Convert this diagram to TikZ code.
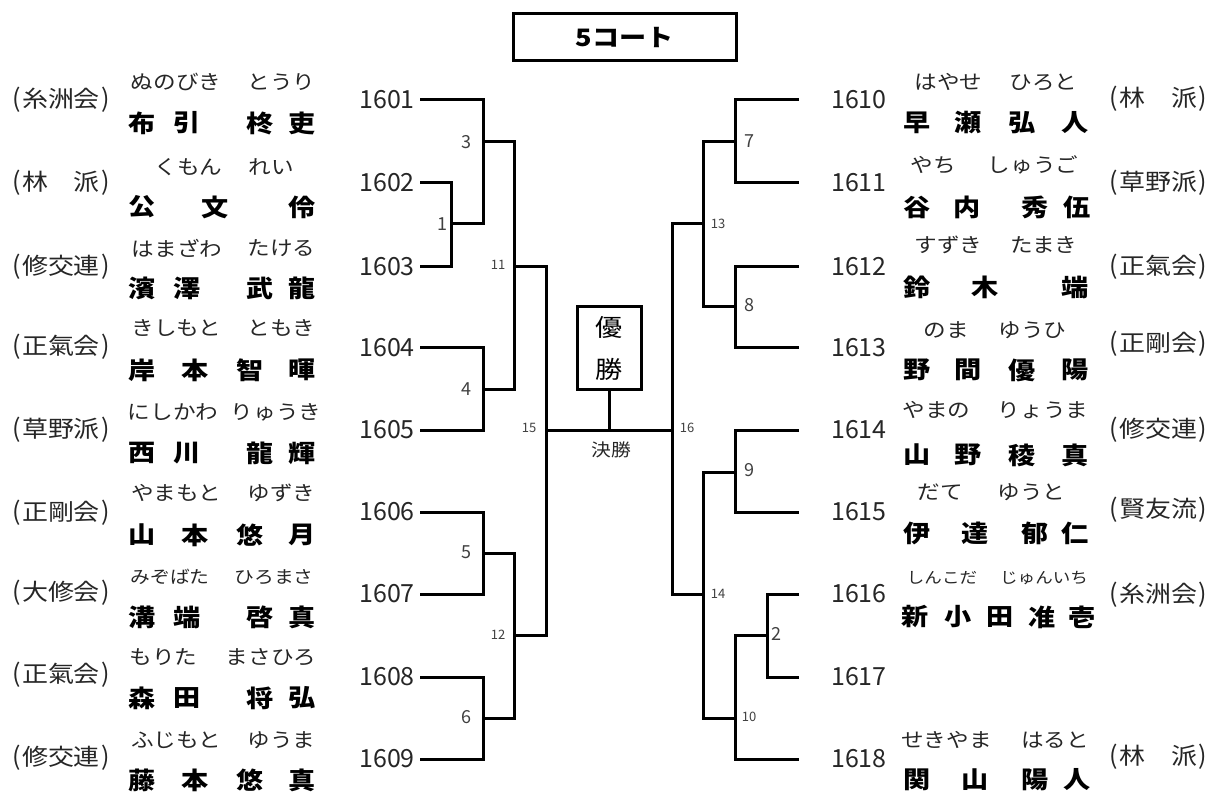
\documentclass[tikz,border=0pt]{standalone}
\usepackage{fontspec}
\setmainfont{Noto Sans CJK JP}[FakeStretch=1.13]
\newfontfamily\numfont{Noto Sans CJK JP}
\newcommand\clubtxt[1]{{\addfontfeature{FakeStretch=1}\fontsize{25}{26}\selectfont(}\hspace{1.5pt}#1\hspace{1.5pt}{\addfontfeature{FakeStretch=1}\fontsize{25}{26}\selectfont)}}
\begin{document}
\begin{tikzpicture}[x=1pt,y=-1pt,
  kj/.style={font=\fontsize{24}{28}\selectfont\bfseries, inner sep=0pt, text=black},
  fu/.style={font=\fontsize{20}{24}\selectfont, inner sep=0pt, text=black!85},
  fus/.style={font=\fontsize{17.5}{20}\selectfont, inner sep=0pt, text=black!85},
  fuxs/.style={font=\fontsize{15.5}{18}\selectfont, inner sep=0pt, text=black!85},
  cl/.style={font=\fontsize{23}{26}\selectfont, inner sep=0pt, text=black!85},
  num/.style={font=\numfont\fontsize{25}{28}\selectfont, inner sep=0pt, text=black!85},
  lab/.style={font=\numfont\fontsize{18}{20}\selectfont, inner sep=0pt, text=black!75},
  labs/.style={font=\numfont\fontsize{13}{15}\selectfont, inner sep=0pt, text=black!75},
  br/.style={line width=3pt, line join=miter},
  boxed/.style={draw, line width=3pt, inner sep=0pt}
]
\useasboundingbox (0,0) rectangle (1213,794);

% title
\node[boxed, minimum width=223pt, minimum height=47pt, font=\fontsize{24}{28}\selectfont\bfseries] (title) at (624.5,37.5) {5コート};

% numbers left
\foreach \n/\y in {1601/100,1602/183,1603/267,1604/348,1605/430,1606/512,1607/594,1608/677,1609/759}{
  \node[num, anchor=east] (n\n) at (415,\y) {\n};
  \coordinate (e\n) at (420,\y);
}
% numbers right
\foreach \n/\y in {1610/100,1611/183,1612/267,1613/348,1614/430,1615/512,1616/594,1617/677,1618/759}{
  \node[num, anchor=west] (n\n) at (831,\y) {\n};
  \coordinate (e\n) at (799,\y);
}

% match junctions
\coordinate (m1) at (451,224);
\coordinate (m3) at (483,142);
\coordinate (m4) at (483,389);
\coordinate (m5) at (483,553);
\coordinate (m6) at (483,718);
\coordinate (m11) at (514,267);
\coordinate (m12) at (514,635);
\coordinate (m15) at (546,430);
\coordinate (m16) at (672,430);
\coordinate (m13) at (703,224);
\coordinate (m14) at (703,594);
\coordinate (m7) at (735,142);
\coordinate (m8) at (735,307);
\coordinate (m9) at (735,472);
\coordinate (m10) at (735,718);
\coordinate (m2) at (767,635);

% left bracket
\draw[br] (e1602) -| (m1) |- (e1603);
\draw[br] (e1601) -| (m3) |- (m1);
\draw[br] (e1604) -| (m4) |- (e1605);
\draw[br] (m3) -| (m11) |- (m4);
\draw[br] (e1606) -| (m5) |- (e1607);
\draw[br] (e1608) -| (m6) |- (e1609);
\draw[br] (m5) -| (m12) |- (m6);
\draw[br] (m11) -| (m15) |- (m12);
\draw[br] (m15) -- (m16);
% right bracket
\draw[br] (e1610) -| (m7) |- (e1611);
\draw[br] (e1612) -| (m8) |- (e1613);
\draw[br] (m7) -| (m13) |- (m8);
\draw[br] (e1614) -| (m9) |- (e1615);
\draw[br] (e1616) -| (m2) |- (e1617);
\draw[br] (m2) -| (m10) |- (e1618);
\draw[br] (m9) -| (m14) |- (m10);
\draw[br] (m13) -| (m16) |- (m14);

% winner box
\node[boxed, minimum width=64pt, minimum height=82pt, align=center, font=\fontsize{24}{42}\selectfont] (win) at (609,348) {優\\勝};
\draw[br] (win.south) -- (win.south |- m15);
\node[font=\fontsize{17.5}{20}\selectfont, inner sep=0pt, text=black!85] (final) at (611,450) {決勝};

% match labels
\node[lab] (l1) at (442,224) {1};
\node[lab] (l3) at (466,142) {3};
\node[lab] (l4) at (466,389) {4};
\node[lab] (l5) at (466,552) {5};
\node[lab] (l6) at (466,717) {6};
\node[labs] (l11) at (498,265) {11};
\node[labs] (l12) at (498,635) {12};
\node[labs] (l15) at (529,428) {15};
\node[labs] (l16) at (687,428) {16};
\node[lab] (l7) at (749,141) {7};
\node[labs] (l13) at (718,224) {13};
\node[lab] (l8) at (749,305) {8};
\node[lab] (l9) at (749,470) {9};
\node[labs] (l14) at (718,594) {14};
\node[labs] (l10) at (749,717) {10};
\node[lab] (l2) at (776,634) {2};

% clubs left
\node[cl] (c1601) at (61,100) {\clubtxt{糸洲会}};
\node[cl] (c1602) at (61,183) {\clubtxt{林　派}};
\node[cl] (c1603) at (61,267) {\clubtxt{修交連}};
\node[cl] (c1604) at (61,347) {\clubtxt{正氣会}};
\node[cl] (c1605) at (61,430) {\clubtxt{草野派}};
\node[cl] (c1606) at (61,513) {\clubtxt{正剛会}};
\node[cl] (c1607) at (61,593) {\clubtxt{大修会}};
\node[cl] (c1608) at (61,675) {\clubtxt{正氣会}};
\node[cl] (c1609) at (61,758) {\clubtxt{修交連}};
% clubs right
\node[cl] (c1610) at (1158,99) {\clubtxt{林　派}};
\node[cl] (c1611) at (1158,183) {\clubtxt{草野派}};
\node[cl] (c1612) at (1158,267) {\clubtxt{正氣会}};
\node[cl] (c1613) at (1158,344) {\clubtxt{正剛会}};
\node[cl] (c1614) at (1158,430) {\clubtxt{修交連}};
\node[cl] (c1615) at (1158,510) {\clubtxt{賢友流}};
\node[cl] (c1616) at (1158,595) {\clubtxt{糸洲会}};
\node[cl] (c1618) at (1158,757) {\clubtxt{林　派}};

% furigana left
\node[fu] (f1601a) at (176,82) {ぬのびき};   \node[fu] (f1601b) at (281.5,82) {とうり};
\node[fu] (f1602a) at (188.5,167) {くもん};  \node[fu] (f1602b) at (271.5,167) {れい};
\node[fu] (f1603a) at (177,248) {はまざわ};  \node[fu] (f1603b) at (281.5,248) {たける};
\node[fu] (f1604a) at (176.5,328) {きしもと};\node[fu] (f1604b) at (281.5,328) {ともき};
\node[fu] (f1605a) at (173,412) {にしかわ};  \node[fu] (f1605b) at (276,412) {りゅうき};
\node[fu] (f1606a) at (176,493) {やまもと};  \node[fu] (f1606b) at (281.5,493) {ゆずき};
\node[fus] (f1607a) at (170,577) {みぞばた}; \node[fus] (f1607b) at (274,577) {ひろまさ};
\node[fu] (f1608a) at (163.5,657) {もりた};  \node[fu] (f1608b) at (271,657) {まさひろ};
\node[fu] (f1609a) at (176,740) {ふじもと};  \node[fu] (f1609b) at (281.5,740) {ゆうま};
% furigana right
\node[fu] (f1610a) at (948.5,82) {はやせ};   \node[fu] (f1610b) at (1043.5,82) {ひろと};
\node[fu] (f1611a) at (933.5,165) {やち};    \node[fu] (f1611b) at (1033,165) {しゅうご};
\node[fu] (f1612a) at (948.5,245) {すずき};  \node[fu] (f1612b) at (1044,245) {たまき};
\node[fu] (f1613a) at (946,330) {のま};      \node[fu] (f1613b) at (1032.5,330) {ゆうひ};
\node[fu] (f1614a) at (936.5,410) {やまの};  \node[fu] (f1614b) at (1043,410) {りょうま};
\node[fu] (f1615a) at (940,492) {だて};      \node[fu] (f1615b) at (1031.5,492) {ゆうと};
\node[fuxs] (f1616a) at (942,578) {しんこだ};\node[fuxs] (f1616b) at (1044,578) {じゅんいち};
\node[fu] (f1618a) at (946.5,740) {せきやま};\node[fu] (f1618b) at (1055,740) {はると};

% kanji names left
\foreach \c/\x [count=\i] in {布/142,引/187,柊/260,吏/302} \node[kj] (k1601-\i) at (\x,123) {\c};
\foreach \c/\x [count=\i] in {公/142,文/215,伶/302} \node[kj] (k1602-\i) at (\x,207) {\c};
\foreach \c/\x [count=\i] in {濱/142,澤/187,武/260,龍/302} \node[kj] (k1603-\i) at (\x,288) {\c};
\foreach \c/\x [count=\i] in {岸/142,本/195,智/250,暉/302} \node[kj] (k1604-\i) at (\x,370) {\c};
\foreach \c/\x [count=\i] in {西/142,川/187,龍/260,輝/302} \node[kj] (k1605-\i) at (\x,453) {\c};
\foreach \c/\x [count=\i] in {山/142,本/195,悠/250,月/302} \node[kj] (k1606-\i) at (\x,535) {\c};
\foreach \c/\x [count=\i] in {溝/142,端/187,啓/260,真/302} \node[kj] (k1607-\i) at (\x,617) {\c};
\foreach \c/\x [count=\i] in {森/142,田/187,将/260,弘/302} \node[kj] (k1608-\i) at (\x,698) {\c};
\foreach \c/\x [count=\i] in {藤/142,本/195,悠/250,真/302} \node[kj] (k1609-\i) at (\x,780) {\c};
% kanji names right
\foreach \c/\x [count=\i] in {早/917,瀬/968,弘/1022,人/1075} \node[kj] (k1610-\i) at (\x,123) {\c};
\foreach \c/\x [count=\i] in {谷/917,内/967,秀/1035,伍/1077} \node[kj] (k1611-\i) at (\x,207) {\c};
\foreach \c/\x [count=\i] in {鈴/917,木/985,端/1075} \node[kj] (k1612-\i) at (\x,287) {\c};
\foreach \c/\x [count=\i] in {野/917,間/968,優/1022,陽/1075} \node[kj] (k1613-\i) at (\x,370) {\c};
\foreach \c/\x [count=\i] in {山/917,野/968,稜/1022,真/1075} \node[kj] (k1614-\i) at (\x,455) {\c};
\foreach \c/\x [count=\i] in {伊/917,達/975,郁/1035,仁/1075} \node[kj] (k1615-\i) at (\x,533) {\c};
\foreach \c/\x [count=\i] in {新/915,小/958,田/1000,准/1042,壱/1082} \node[kj] (k1616-\i) at (\x,617) {\c};
\foreach \c/\x [count=\i] in {関/917,山/975,陽/1035,人/1077} \node[kj] (k1618-\i) at (\x,780) {\c};
\end{tikzpicture}
\end{document}
